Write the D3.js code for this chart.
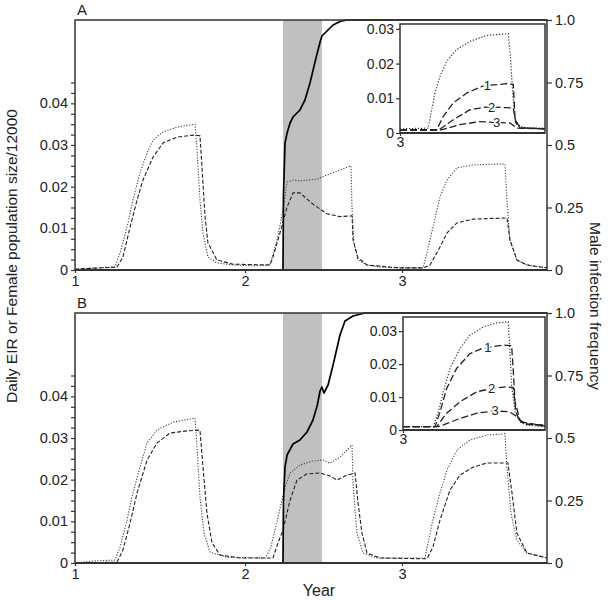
<!DOCTYPE html>
<html><head><meta charset="utf-8">
<script src="https://cdn.jsdelivr.net/npm/d3@7"></script>
<style>
body{margin:0;background:#fff;}
svg{display:block;font-family:"Liberation Sans",Arial,sans-serif;}
</style></head>
<body><svg id="c" width="613" height="601"></svg>
<script>
// ---------- DATA ----------
const xTicks = [1, 2, 3];
const leftLabels = ["0", "0.01", "0.02", "0.03", "0.04"];
const rightTicks = [0, 0.25, 0.5, 0.75, 1];
const rightLabels = ["0", "0.25", "0.5", "0.75", "1.0"];
const insetTicks = [0, 0.01, 0.02, 0.03];
const insetTickLabels = ["0", "0.01", "0.02", "0.03"];
const intervention = [2.242, 2.49];

// Panel A  [year, value]
const aDotted = [[1,0.0002],[1.118,0.0005],[1.235,0.0007],[1.265,0.0041],[1.306,0.0103],[1.341,0.0168],[1.382,0.0233],[1.424,0.0281],[1.459,0.0312],[1.518,0.0331],[1.6,0.0343],[1.706,0.035],[1.718,0.0288],[1.735,0.0168],[1.753,0.0089],[1.782,0.0031],[1.835,0.0017],[1.929,0.0012],[2.064,0.001],[2.159,0.0012],[2.204,0.0072],[2.236,0.0132],[2.268,0.0211],[2.306,0.0216],[2.35,0.0214],[2.459,0.0218],[2.522,0.0228],[2.605,0.024],[2.675,0.025],[2.682,0.0144],[2.694,0.0065],[2.72,0.0024],[2.777,0.0012],[2.86,0.0007],[2.987,0.0005],[3.134,0.0005],[3.159,0.0041],[3.197,0.0103],[3.242,0.0175],[3.287,0.0216],[3.35,0.0245],[3.452,0.0252],[3.58,0.0254],[3.656,0.0254],[3.669,0.0168],[3.688,0.0072],[3.732,0.0024],[3.796,0.0012],[3.879,0.0007],[3.924,0.0005]];
const aDashed = [[1,0.0002],[1.247,0.0007],[1.282,0.0031],[1.324,0.0103],[1.365,0.0168],[1.4,0.0216],[1.459,0.0271],[1.518,0.0305],[1.6,0.0319],[1.706,0.0324],[1.735,0.0322],[1.747,0.0247],[1.765,0.0127],[1.782,0.0065],[1.835,0.0024],[1.929,0.0014],[2.159,0.0012],[2.178,0.0031],[2.223,0.0089],[2.268,0.0151],[2.306,0.0185],[2.35,0.0185],[2.433,0.0158],[2.522,0.0135],[2.605,0.0128],[2.682,0.013],[2.688,0.0072],[2.72,0.0029],[2.777,0.0012],[2.987,0.0005],[3.134,0.0005],[3.178,0.0012],[3.242,0.0055],[3.287,0.0089],[3.35,0.0113],[3.452,0.0122],[3.669,0.0125],[3.688,0.0072],[3.732,0.0024],[3.796,0.0012],[3.924,0.0005]];
const aMale = [[2.242,0],[2.245,0.3],[2.255,0.508],[2.268,0.548],[2.287,0.588],[2.306,0.612],[2.35,0.64],[2.382,0.68],[2.414,0.748],[2.446,0.832],[2.478,0.912],[2.49,0.936],[2.522,0.956],[2.561,0.98],[2.605,0.994],[2.65,1],[3.924,1]];

// Panel B
const bDotted = [[1,0],[1.118,0.0005],[1.235,0.0007],[1.265,0.0038],[1.306,0.0103],[1.341,0.0168],[1.382,0.023],[1.424,0.0288],[1.482,0.0319],[1.576,0.0338],[1.706,0.0348],[1.718,0.0278],[1.735,0.0158],[1.759,0.0072],[1.794,0.0026],[1.894,0.0014],[2.129,0.0012],[2.165,0.0038],[2.206,0.0103],[2.255,0.0182],[2.287,0.0216],[2.35,0.0235],[2.433,0.0245],[2.497,0.0247],[2.541,0.024],[2.605,0.0254],[2.682,0.0283],[2.688,0.0192],[2.713,0.0072],[2.752,0.0024],[2.841,0.0012],[2.987,0.0012],[3.146,0.0012],[3.166,0.0048],[3.197,0.0103],[3.242,0.0168],[3.287,0.0223],[3.35,0.0271],[3.433,0.0295],[3.541,0.0307],[3.656,0.031],[3.669,0.023],[3.694,0.012],[3.732,0.0055],[3.796,0.0024],[3.924,0.0012]];
const bDashed = [[1,0],[1.247,0.0002],[1.282,0.0031],[1.324,0.0096],[1.365,0.0168],[1.424,0.0247],[1.482,0.0288],[1.559,0.0312],[1.659,0.0317],[1.735,0.0319],[1.753,0.023],[1.776,0.012],[1.806,0.0048],[1.853,0.0019],[1.971,0.0012],[2.178,0.0012],[2.21,0.0048],[2.242,0.0079],[2.287,0.0151],[2.331,0.0199],[2.395,0.0214],[2.478,0.0216],[2.541,0.0209],[2.586,0.0199],[2.65,0.0211],[2.701,0.0216],[2.72,0.0144],[2.745,0.0072],[2.777,0.0024],[2.86,0.0012],[3.159,0.001],[3.197,0.0038],[3.242,0.0103],[3.306,0.0175],[3.369,0.0211],[3.452,0.023],[3.541,0.024],[3.675,0.024],[3.701,0.0168],[3.732,0.0072],[3.796,0.0024],[3.924,0.0012]];
const bMale = [[2.242,0],[2.245,0.25],[2.255,0.384],[2.268,0.432],[2.306,0.476],[2.35,0.492],[2.395,0.524],[2.433,0.572],[2.46,0.63],[2.478,0.688],[2.49,0.704],[2.503,0.68],[2.529,0.712],[2.561,0.792],[2.605,0.912],[2.637,0.968],[2.688,0.988],[2.764,1],[3.924,1]];

// Insets
const aInDotted = [[3,0.0012],[3.18,0.0014],[3.202,0.0067],[3.223,0.0115],[3.255,0.0163],[3.298,0.0207],[3.361,0.024],[3.446,0.0264],[3.552,0.0281],[3.69,0.0286],[3.705,0.0211],[3.718,0.0116],[3.733,0.0038],[3.765,0.0019],[3.807,0.0014],[3.924,0.0014]];
const aIn1 = [[3,0.0009],[3.234,0.001],[3.276,0.0048],[3.34,0.0087],[3.425,0.0115],[3.531,0.0136],[3.68,0.0142],[3.722,0.014],[3.726,0.0106],[3.733,0.0038],[3.765,0.0015],[3.924,0.0012]];
const aIn2 = [[3,0.0008],[3.244,0.0008],[3.34,0.0038],[3.446,0.0067],[3.552,0.0075],[3.68,0.0073],[3.722,0.0072],[3.739,0.0029],[3.765,0.0015],[3.924,0.0012]];
const aIn3 = [[3,0.0008],[3.255,0.0008],[3.382,0.0024],[3.51,0.0033],[3.616,0.003],[3.701,0.0029],[3.744,0.0014],[3.924,0.0012]];
const bInDotted = [[3,0.001],[3.197,0.001],[3.23,0.0055],[3.262,0.0116],[3.306,0.0187],[3.371,0.0248],[3.436,0.0288],[3.523,0.0313],[3.61,0.0325],[3.685,0.0328],[3.696,0.0237],[3.707,0.0136],[3.729,0.0055],[3.761,0.0025],[3.805,0.0015],[3.924,0.001]];
const bIn1 = [[3,0.001],[3.208,0.001],[3.241,0.0055],[3.284,0.0126],[3.349,0.0187],[3.436,0.0232],[3.523,0.0249],[3.653,0.0258],[3.707,0.0256],[3.718,0.0177],[3.729,0.0086],[3.761,0.003],[3.805,0.0017],[3.924,0.0015]];
const bIn2 = [[3,0.001],[3.219,0.001],[3.284,0.0051],[3.371,0.0086],[3.48,0.0116],[3.577,0.0126],[3.675,0.0131],[3.718,0.0129],[3.735,0.0055],[3.761,0.0025],[3.924,0.0012]];
const bIn3 = [[3,0.001],[3.23,0.001],[3.371,0.0035],[3.48,0.0051],[3.599,0.0058],[3.696,0.0055],[3.74,0.004],[3.783,0.002],[3.924,0.0012]];
const aInLabels = [["1",3.556,0.0138],["2",3.584,0.0075],["3",3.616,0.003]];
const bInLabels = [["1",3.553,0.0252],["2",3.577,0.0127],["3",3.599,0.0058]];

// ---------- DRAW ----------
const svg = d3.select("#c");
const L = 75, R = 547;
const axisCol = "#333";
const x = d3.scaleLinear().domain([1, 2, 3, 3.924]).range([75, 245, 402, 547]);

function styleAxis(g, fs) {
  g.selectAll("path.domain").remove();
  g.selectAll("line").attr("stroke", axisCol).attr("stroke-width", 1.2);
  g.selectAll("text").attr("fill", "#222").style("font-size", fs + "px").style("font-family", '"Liberation Sans",Arial,sans-serif');
}

function panel(cfg) {
  const g = svg.append("g");
  const yL = d3.scaleLinear().domain([0, 0.06]).range([cfg.bottom, cfg.top]);
  const yR = d3.scaleLinear().domain([0, 1]).range([cfg.bottom, cfg.top]);
  g.append("rect").attr("x", x(intervention[0])).attr("y", cfg.top)
    .attr("width", x(intervention[1]) - x(intervention[0])).attr("height", cfg.bottom - cfg.top)
    .attr("fill", "#c0c0c0");

  const lineL = d3.line().x(d => x(d[0])).y(d => yL(d[1]));
  const lineR = d3.line().x(d => x(d[0])).y(d => yR(d[1]));
  g.append("path").attr("d", lineL(cfg.dotted)).attr("fill", "none").attr("stroke", "#444")
    .attr("stroke-width", 1.1).attr("stroke-dasharray", "1.2,1.6");
  g.append("path").attr("d", lineL(cfg.dashed)).attr("fill", "none").attr("stroke", "#222")
    .attr("stroke-width", 1.1).attr("stroke-dasharray", "4,2");
  g.append("path").attr("d", lineR(cfg.male)).attr("fill", "none").attr("stroke", "#000")
    .attr("stroke-width", 1.7).attr("stroke-linejoin", "round");

  g.append("rect").attr("x", L).attr("y", cfg.top).attr("width", R - L).attr("height", cfg.bottom - cfg.top)
    .attr("fill", "none").attr("stroke", axisCol).attr("stroke-width", 1.5);

  const minor = d3.range(0, 19).map(i => i * 0.0025);
  const ax = g.append("g").attr("transform", `translate(${L},0)`)
    .call(d3.axisLeft(yL).tickValues(minor).tickSize(4).tickPadding(3)
      .tickFormat(d => { const k = Math.round(d * 100); return Math.abs(d * 100 - k) < 1e-6 ? leftLabels[k] : ""; }));
  styleAxis(ax, 14.5);
  const ar = g.append("g").attr("transform", `translate(${R},0)`)
    .call(d3.axisRight(yR).tickValues(rightTicks).tickSize(5).tickPadding(3)
      .tickFormat((d, i) => rightLabels[i]));
  styleAxis(ar, 14.5);
  const ab = g.append("g").attr("transform", `translate(0,${cfg.bottom})`)
    .call(d3.axisBottom(x).tickValues(xTicks).tickSize(3).tickPadding(3).tickFormat(d3.format("d")));
  styleAxis(ab, 14.5);
  g.append("line").attr("x1", L).attr("x2", R).attr("y1", cfg.bottom).attr("y2", cfg.bottom)
    .attr("stroke", axisCol).attr("stroke-width", 2);

  g.append("text").attr("x", 77).attr("y", cfg.top - 5).text(cfg.label)
    .style("font-size", "15px").attr("fill", "#222");

  const ins = cfg.inset;
  const xi = d3.scaleLinear().domain([3, 3.924]).range([ins.left, ins.right]);
  const yi = d3.scaleLinear().domain([0, ins.ymax]).range([ins.bottom, ins.top]);
  const gi = g.append("g");
  gi.append("rect").attr("x", ins.left).attr("y", ins.top).attr("width", ins.right - ins.left)
    .attr("height", ins.bottom - ins.top).attr("fill", "#fff");
  const li = d3.line().x(d => xi(d[0])).y(d => yi(d[1]));
  gi.append("path").attr("d", li(ins.dotted)).attr("fill", "none").attr("stroke", "#333")
    .attr("stroke-width", 1.2).attr("stroke-dasharray", "1.2,1.8");
  ins.lines.forEach(ln => {
    gi.append("path").attr("d", li(ln)).attr("fill", "none").attr("stroke", "#222")
      .attr("stroke-width", 1.3).attr("stroke-dasharray", "7,3");
  });
  ins.labels.forEach(lb => {
    gi.append("text").attr("x", xi(lb[1])).attr("y", yi(lb[2])).attr("dy", "0.35em")
      .attr("text-anchor", "middle").text(lb[0]).style("font-size", "13px").attr("fill", "#222")
      .attr("stroke", "#fff").attr("stroke-width", 3).attr("paint-order", "stroke");
  });
  gi.append("rect").attr("x", ins.left).attr("y", ins.top).attr("width", ins.right - ins.left)
    .attr("height", ins.bottom - ins.top).attr("fill", "none").attr("stroke", axisCol).attr("stroke-width", 1.5);
  gi.append("line").attr("x1", ins.left).attr("x2", ins.right).attr("y1", ins.bottom).attr("y2", ins.bottom)
    .attr("stroke", axisCol).attr("stroke-width", 2);
  const ail = gi.append("g").attr("transform", `translate(${ins.left},0)`)
    .call(d3.axisLeft(yi).tickValues(insetTicks).tickSize(4).tickPadding(2).tickFormat((d, i) => insetTickLabels[i]));
  styleAxis(ail, 14);
  const aib = gi.append("g").attr("transform", `translate(0,${ins.bottom})`)
    .call(d3.axisBottom(xi).tickValues([3]).tickSize(3).tickPadding(1).tickFormat(d3.format("d")));
  styleAxis(aib, 14);
}

panel({ top: 20, bottom: 270, label: "A", dotted: aDotted, dashed: aDashed, male: aMale,
  inset: { left: 400, right: 545, top: 24, bottom: 133, ymax: 0.0314, dotted: aInDotted,
    lines: [aIn1, aIn2, aIn3], labels: aInLabels } });
panel({ top: 313, bottom: 563, label: "B", dotted: bDotted, dashed: bDashed, male: bMale,
  inset: { left: 403, right: 545, top: 317, bottom: 430, ymax: 0.0343, dotted: bInDotted,
    lines: [bIn1, bIn2, bIn3], labels: bInLabels } });

svg.append("text").attr("transform", "translate(17,256) rotate(-90)").attr("text-anchor", "middle")
  .text("Daily EIR or Female population size/12000").style("font-size", "15.5px").attr("fill", "#222");
svg.append("text").attr("transform", "translate(590,306) rotate(90)").attr("text-anchor", "middle")
  .text("Male infection frequency").style("font-size", "15.5px").attr("fill", "#222");
svg.append("text").attr("x", 319).attr("y", 596).attr("text-anchor", "middle")
  .text("Year").style("font-size", "16px").attr("fill", "#222");
</script></body></html>
